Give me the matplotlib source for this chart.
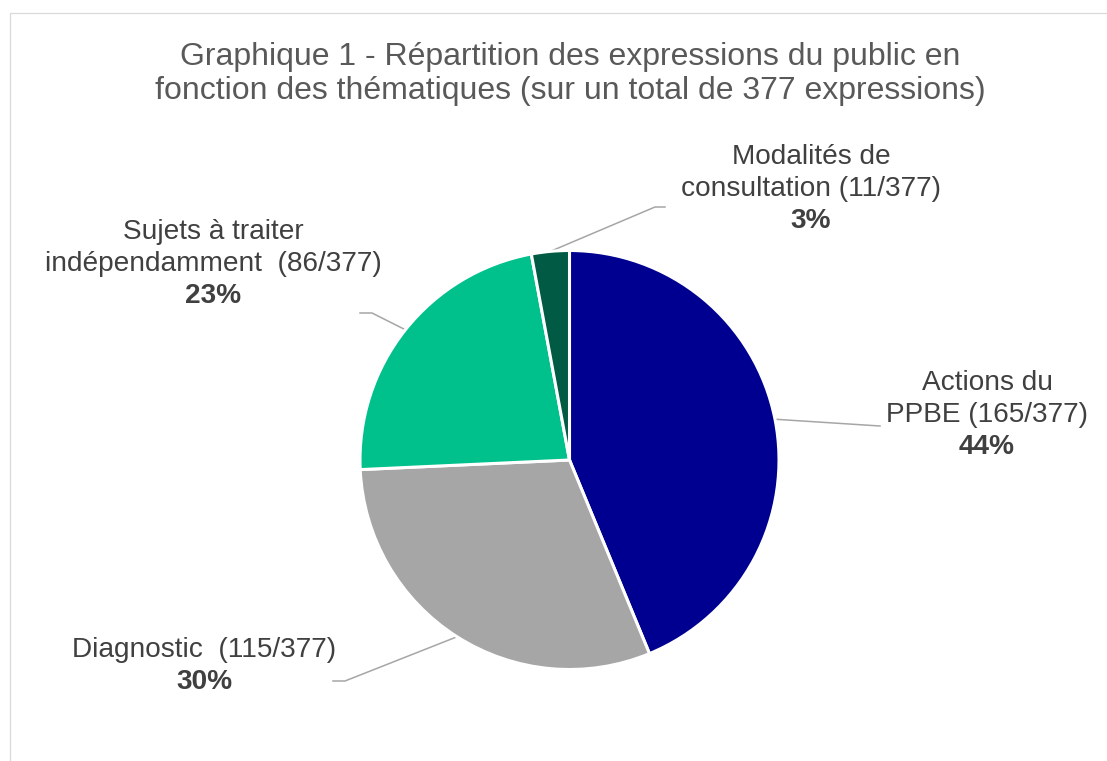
import matplotlib
matplotlib.use("Agg")
import matplotlib.pyplot as plt
import numpy as np
from matplotlib.patches import Rectangle

plt.rcParams['font.family'] = ['Liberation Sans', 'DejaVu Sans']

# Data
categories = ["Actions du\nPPBE", "Diagnostic ", "Sujets à traiter\nindépendamment ", "Modalités de\nconsultation"]
values = [165, 115, 86, 11]
colors = ["#000090", "#A6A6A6", "#00C08B", "#005A44"]
total = sum(values)
title = "Graphique 1 - Répartition des expressions du public en\nfonction des thématiques (sur un total de 377 expressions)"

# percentages rounded so that they sum to 100 (largest remainder)
raw = [100 * v / total for v in values]
pcts = [int(np.floor(r)) for r in raw]
order = sorted(range(len(raw)), key=lambda i: raw[i] - pcts[i], reverse=True)
for i in order[:100 - sum(pcts)]:
    pcts[i] += 1

W, H = 1107, 761
fig = plt.figure(figsize=(W / 100, H / 100), dpi=100)
ax = fig.add_axes([0, 0, 1, 1])
ax.set_xlim(0, W)
ax.set_ylim(0, H)
ax.set_aspect('equal')
ax.axis('off')

# chart border
ax.add_patch(Rectangle((9.5, -50), W + 100, H - 12.5 + 50, fill=False,
                       edgecolor="#D9D9D9", linewidth=0.9))

cx, cy, R = 569.5, H - 460, 209.5
wedges, _ = ax.pie(values, colors=colors, startangle=90, counterclock=False,
                   center=(cx, cy), radius=R,
                   wedgeprops=dict(edgecolor="white", linewidth=2.2))
ax.set_xlim(0, W)
ax.set_ylim(0, H)

ax.text(570, H - 74, title, ha='center', va='center', fontsize=23,
        color="#595959", linespacing=1.2)

# label layout (pixel coords from top): x center, y of first line, leader path (elbow, end)
layout = [
    dict(x=987, y=383, path=[(880, 426)]),
    dict(x=204, y=650, path=[(345, 681), (333, 681)]),
    dict(x=213, y=232, path=[(372, 313), (360, 313)]),
    dict(x=811, y=157, path=[(655, 207), (665, 207)]),
]
step = 32
for w, cat, v, pct, lay in zip(wedges, categories, values, pcts, layout):
    lines = cat.split("\n")
    lines[-1] = f"{lines[-1]} ({v}/{total})"
    for k, ln in enumerate(lines):
        ax.text(lay['x'], H - (lay['y'] + k * step), ln, ha='center', va='center',
                fontsize=20.2, color="#404040")
    ax.text(lay['x'], H - (lay['y'] + len(lines) * step), f"{pct}%", ha='center',
            va='center', fontsize=20.2, color="#404040", fontweight='bold')
    ang = np.deg2rad((w.theta1 + w.theta2) / 2)
    xs = [cx + R * np.cos(ang)] + [p[0] for p in lay['path']]
    ys = [cy + R * np.sin(ang)] + [H - p[1] for p in lay['path']]
    ax.plot(xs, ys, color="#A6A6A6", linewidth=1.1, zorder=0.5)

fig.savefig("out.png", dpi=100)
